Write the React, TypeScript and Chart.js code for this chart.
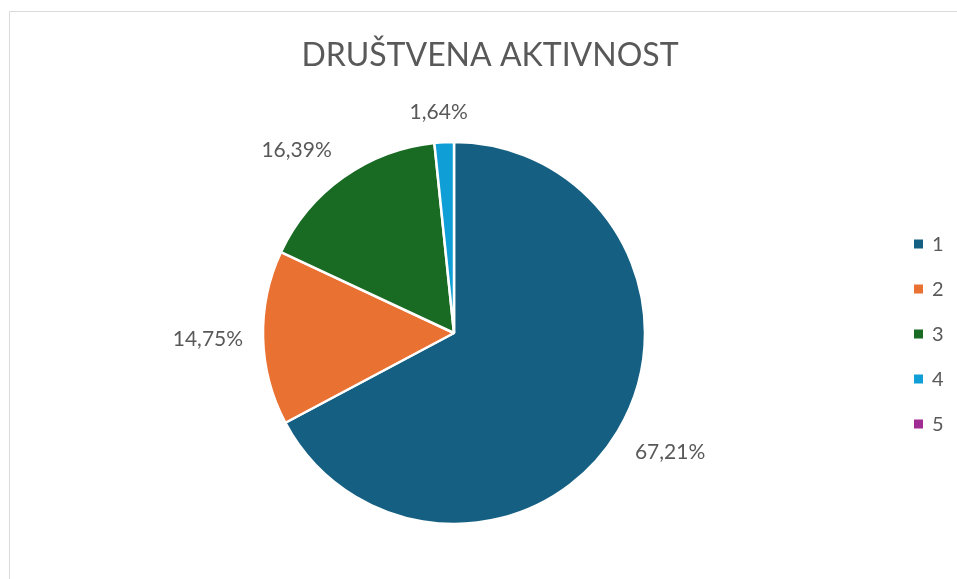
import React, { useEffect, useRef } from "react";
import { Chart, registerables } from "chart.js";

Chart.register(...registerables);

const TITLE = "DRUŠTVENA AKTIVNOST";
const categories = ["1", "2", "3", "4", "5"];
const values = [41, 9, 10, 1, 0];
const colors = ["#156082", "#E97132", "#196B24", "#0F9ED5", "#A02B93"];

const FONT = "Lato, 'Open Sans', sans-serif";
const TEXT = "#595959";

const fmtPct = (v: number, total: number) =>
  ((v / total) * 100).toFixed(2).replace(".", ",") + "%";

const decorPlugin = {
  id: "decor",
  beforeDraw(chart: any) {
    const ctx = chart.ctx;
    ctx.save();
    ctx.fillStyle = "#ffffff";
    ctx.fillRect(0, 0, chart.width, chart.height);
    ctx.strokeStyle = "#d9d9d9";
    ctx.lineWidth = 1;
    ctx.beginPath();
    ctx.moveTo(9.5, chart.height + 5);
    ctx.lineTo(9.5, 11.5);
    ctx.lineTo(chart.width + 5, 11.5);
    ctx.stroke();
    // title
    ctx.fillStyle = TEXT;
    ctx.font = `32px ${FONT}`;
    ctx.textAlign = "center";
    ctx.textBaseline = "middle";
    ctx.fillText(TITLE, 490, 56);
    ctx.restore();
  },
  afterDraw(chart: any) {
    const ctx = chart.ctx;
    const meta = chart.getDatasetMeta(0);
    const data = chart.data.datasets[0].data as number[];
    const total = data.reduce((a: number, b: number) => a + b, 0);
    ctx.save();
    ctx.font = `21px ${FONT}`;
    ctx.fillStyle = TEXT;
    ctx.textBaseline = "middle";
    ctx.textAlign = "center";
    meta.data.forEach((arc: any, i: number) => {
      if (!data[i]) return;
      const p = arc.getProps(["x", "y", "startAngle", "endAngle", "outerRadius"], true);
      const mid = (p.startAngle + p.endAngle) / 2;
      const dx = Math.cos(mid);
      const dy = Math.sin(mid);
      const txt = fmtPct(data[i], total);
      const w = ctx.measureText(txt).width;
      const h = 21;
      const r = p.outerRadius + 20;
      const px = p.x + dx * r;
      const py = p.y + dy * r;
      const sx = Math.max(-1, Math.min(1, dx * 3));
      const sy = Math.max(-1, Math.min(1, dy * 3));
      ctx.fillText(txt, px + (sx * w) / 2, py + (sy * h) / 2);
    });
    // legend
    ctx.font = `20px ${FONT}`;
    const labels = chart.data.labels as string[];
    labels.forEach((lab: string, i: number) => {
      const cy = 244 + i * 45;
      ctx.fillStyle = colors[i];
      ctx.fillRect(914, cy - 4.5, 9, 9);
      ctx.fillStyle = TEXT;
      ctx.textAlign = "left";
      ctx.fillText(lab, 932, cy + 1);
    });
    ctx.restore();
  },
};

export default function App() {
  const ref = useRef<HTMLCanvasElement | null>(null);
  useEffect(() => {
    if (!ref.current) return;
    const chart = new Chart(ref.current, {
      type: "pie",
      data: {
        labels: categories,
        datasets: [
          {
            data: values,
            backgroundColor: colors,
            borderColor: "#ffffff",
            borderWidth: 2.5,
            radius: 191,
          },
        ],
      },
      options: {
        responsive: false,
        animation: false,
        devicePixelRatio: 1,
        layout: { padding: { left: 264, right: 313, top: 143, bottom: 56 } },
        plugins: {
          legend: { display: false },
          title: { display: false },
          tooltip: { enabled: false },
        },
      },
      plugins: [decorPlugin],
    });
    return () => chart.destroy();
  }, []);
  return (
    <div style={{ position: "fixed", left: 0, top: 0, width: 957, height: 579, background: "#fff" }}>
      <canvas ref={ref} width={957} height={579} style={{ display: "block" }} />
    </div>
  );
}
